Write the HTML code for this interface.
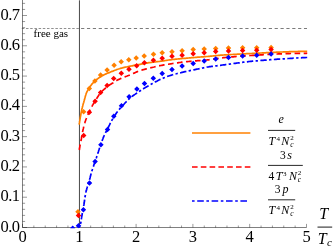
<!DOCTYPE html>
<html><head><meta charset="utf-8"><title>plot</title>
<style>html,body{margin:0;padding:0;background:#fff}body{width:334px;height:249px;position:relative;overflow:hidden;font-family:"Liberation Serif",serif}</style>
</head><body>
<svg width="334" height="249" viewBox="0 0 334 249" style="position:absolute;left:0;top:0">
<defs><filter id="soft" x="0" y="0" width="334" height="249" filterUnits="userSpaceOnUse"><feGaussianBlur stdDeviation="0.35"/></filter><clipPath id="cp"><rect x="22" y="0" width="286" height="227.5"/></clipPath><clipPath id="cd"><rect x="22" y="0" width="286" height="228.3"/></clipPath></defs>
<g stroke="#000" stroke-width="0.5" fill="none">
<path d="M22.5,0V227.5H306.5"/>
<path d="M22.5,227.50h4.5M22.5,221.44h2.6M22.5,215.39h2.6M22.5,209.33h2.6M22.5,203.27h2.6M22.5,197.21h4.5M22.5,191.16h2.6M22.5,185.10h2.6M22.5,179.04h2.6M22.5,172.99h2.6M22.5,166.93h4.5M22.5,160.87h2.6M22.5,154.81h2.6M22.5,148.76h2.6M22.5,142.70h2.6M22.5,136.64h4.5M22.5,130.58h2.6M22.5,124.53h2.6M22.5,118.47h2.6M22.5,112.41h2.6M22.5,106.36h4.5M22.5,100.30h2.6M22.5,94.24h2.6M22.5,88.18h2.6M22.5,82.13h2.6M22.5,76.07h4.5M22.5,70.01h2.6M22.5,63.96h2.6M22.5,57.90h2.6M22.5,51.84h2.6M22.5,45.78h4.5M22.5,39.73h2.6M22.5,33.67h2.6M22.5,27.61h2.6M22.5,21.56h2.6M22.5,15.50h4.5M22.5,9.44h2.6M22.5,3.38h2.6M22.50,227.5v-3.6M33.86,227.5v-2.0M45.22,227.5v-2.0M56.58,227.5v-2.0M67.94,227.5v-2.0M79.30,227.5v-3.6M90.66,227.5v-2.0M102.02,227.5v-2.0M113.38,227.5v-2.0M124.74,227.5v-2.0M136.10,227.5v-3.6M147.46,227.5v-2.0M158.82,227.5v-2.0M170.18,227.5v-2.0M181.54,227.5v-2.0M192.90,227.5v-3.6M204.26,227.5v-2.0M215.62,227.5v-2.0M226.98,227.5v-2.0M238.34,227.5v-2.0M249.70,227.5v-3.6M261.06,227.5v-2.0M272.42,227.5v-2.0M283.78,227.5v-2.0M295.14,227.5v-2.0M306.50,227.5v-3.6" stroke-width="0.4"/>
</g>
<path d="M79.45,0.3V227.5" stroke="#000" stroke-width="0.72"/>
<path d="M21.8,28.5H79.2" stroke="#444" stroke-width="0.6" stroke-dasharray="2.5 1.7"/>
<path d="M81.1,28.5H307" stroke="#333" stroke-width="0.65" stroke-dasharray="3.2 2.665"/>
<g clip-path="url(#cp)" fill="none" stroke-width="1.7">
<path d="M79.2,124.7 L79.3,123.7 L79.5,122.7 L79.6,121.7 L79.8,120.7 L79.9,119.8 L80.1,118.8 L80.2,117.8 L80.4,116.8 L80.6,115.8 L80.8,114.8 L80.9,113.8 L81.1,112.9 L81.3,111.9 L81.5,110.9 L81.7,109.9 L81.9,108.9 L82.2,108.0 L82.4,107.0 L82.7,106.0 L82.9,105.1 L83.2,104.1 L83.5,103.1 L83.8,102.2 L84.0,101.2 L84.3,100.3 L84.6,99.3 L84.8,98.3 L85.1,97.3 L85.3,96.4 L85.6,95.4 L85.9,94.5 L86.2,93.5 L86.6,92.6 L87.0,91.7 L87.5,90.8 L88.0,89.9 L88.5,89.1 L89.0,88.2 L89.6,87.4 L90.1,86.5 L90.7,85.7 L91.3,84.9 L91.9,84.1 L92.6,83.4 L93.2,82.7 L93.9,81.9 L94.7,81.2 L95.4,80.6 L96.2,79.9 L97.0,79.3 L97.8,78.7 L98.5,78.1 L99.4,77.5 L100.2,77.0 L101.1,76.5 L101.9,75.9 L102.8,75.5 L103.7,75.0 L104.6,74.6 L105.5,74.1 L106.4,73.7 L107.3,73.3 L108.3,72.9 L109.2,72.6 L110.1,72.2 L111.0,71.8 L112.0,71.4 L112.9,71.1 L113.8,70.7 L114.8,70.3 L115.7,70.0 L116.6,69.6 L117.6,69.3 L118.5,69.0 L119.5,68.7 L120.4,68.4 L121.4,68.1 L122.4,67.9 L123.3,67.6 L124.3,67.4 L125.3,67.2 L126.3,67.0 L127.3,66.8 L128.2,66.6 L129.2,66.4 L130.2,66.2 L131.2,66.0 L132.2,65.8 L133.1,65.6 L134.1,65.4 L135.1,65.2 L136.1,65.0 L137.1,64.8 L138.0,64.7 L139.0,64.5 L140.0,64.3 L141.0,64.1 L142.0,63.9 L143.0,63.8 L144.0,63.6 L144.9,63.4 L145.9,63.2 L146.9,63.1 L147.9,62.9 L148.9,62.7 L149.9,62.6 L150.9,62.5 L151.9,62.3 L152.8,62.2 L153.8,62.1 L154.8,62.0 L155.8,61.9 L156.8,61.7 L157.8,61.6 L158.8,61.5 L159.8,61.4 L160.8,61.2 L161.8,61.1 L162.8,60.9 L163.8,60.8 L164.7,60.6 L165.7,60.5 L166.7,60.3 L167.7,60.2 L168.7,60.0 L169.7,59.9 L170.7,59.8 L171.7,59.7 L172.7,59.5 L173.7,59.4 L174.7,59.3 L175.6,59.2 L176.6,59.1 L177.6,59.0 L178.6,58.9 L179.6,58.8 L180.6,58.7 L181.6,58.6 L182.6,58.5 L183.6,58.4 L184.6,58.4 L185.6,58.3 L186.6,58.2 L187.6,58.1 L188.6,58.0 L189.6,57.9 L190.6,57.8 L191.6,57.7 L192.6,57.6 L193.6,57.6 L194.6,57.5 L195.6,57.4 L196.6,57.3 L197.6,57.2 L198.6,57.2 L199.6,57.1 L200.6,57.0 L201.5,56.9 L202.5,56.9 L203.5,56.8 L204.5,56.7 L205.5,56.6 L206.5,56.5 L207.5,56.5 L208.5,56.4 L209.5,56.3 L210.5,56.2 L211.5,56.1 L212.5,56.0 L213.5,55.9 L214.5,55.8 L215.5,55.7 L216.5,55.6 L217.5,55.5 L218.5,55.4 L219.5,55.3 L220.5,55.2 L221.5,55.1 L222.5,55.1 L223.5,55.0 L224.5,54.9 L225.5,54.9 L226.5,54.8 L227.5,54.8 L228.5,54.7 L229.4,54.6 L230.4,54.6 L231.4,54.5 L232.4,54.5 L233.4,54.4 L234.4,54.4 L235.4,54.3 L236.4,54.3 L237.4,54.2 L238.4,54.1 L239.4,54.1 L240.4,54.0 L241.4,54.0 L242.4,53.9 L243.4,53.9 L244.4,53.8 L245.4,53.8 L246.4,53.7 L247.4,53.7 L248.4,53.6 L249.4,53.6 L250.4,53.5 L251.4,53.5 L252.4,53.4 L253.4,53.4 L254.4,53.3 L255.4,53.3 L256.4,53.2 L257.4,53.2 L258.4,53.1 L259.4,53.1 L260.4,53.0 L261.4,53.0 L262.4,52.9 L263.4,52.9 L264.4,52.8 L265.4,52.8 L266.4,52.7 L267.4,52.7 L268.4,52.6 L269.4,52.6 L270.4,52.5 L271.4,52.4 L272.4,52.4 L273.4,52.3 L274.4,52.3 L275.4,52.3 L276.4,52.2 L277.4,52.2 L278.4,52.1 L279.4,52.1 L280.4,52.0 L281.4,52.0 L282.4,52.0 L283.4,51.9 L284.4,51.9 L285.4,51.9 L286.4,51.8 L287.4,51.8 L288.4,51.8 L289.4,51.7 L290.4,51.7 L291.4,51.7 L292.4,51.6 L293.4,51.6 L294.4,51.6 L295.4,51.5 L296.4,51.5 L297.4,51.5 L298.4,51.4 L299.4,51.4 L300.4,51.4 L301.4,51.4 L302.4,51.3 L303.4,51.3 L304.4,51.3 L305.4,51.3 L306.4,51.3 L307.2,51.3" stroke="#ff8000"/>
<path d="M79.3,150.0 L79.5,149.0 L79.6,148.0 L79.8,147.0 L79.9,146.1 L80.1,145.1 L80.3,144.1 L80.5,143.1 L80.7,142.1 L80.9,141.1 L81.1,140.2 L81.3,139.2 L81.5,138.2 L81.6,137.2 L81.8,136.2 L82.0,135.2 L82.2,134.3 L82.3,133.3 L82.5,132.3 L82.7,131.3 L82.9,130.3 L83.1,129.4 L83.4,128.4 L83.6,127.4 L83.8,126.4 L84.1,125.5 L84.4,124.5 L84.6,123.5 L84.9,122.6 L85.2,121.6 L85.5,120.7 L85.8,119.7 L86.2,118.8 L86.5,117.9 L86.9,116.9 L87.3,116.0 L87.7,115.1 L88.1,114.2 L88.5,113.3 L88.9,112.4 L89.4,111.4 L89.8,110.5 L90.2,109.6 L90.7,108.7 L91.1,107.8 L91.6,107.0 L92.1,106.1 L92.5,105.2 L93.1,104.4 L93.6,103.5 L94.1,102.7 L94.7,101.8 L95.2,101.0 L95.8,100.1 L96.3,99.3 L96.8,98.4 L97.3,97.5 L97.8,96.7 L98.4,95.8 L98.9,95.0 L99.5,94.2 L100.1,93.4 L100.7,92.6 L101.4,91.9 L102.1,91.2 L102.8,90.5 L103.5,89.8 L104.3,89.1 L105.1,88.5 L105.8,87.8 L106.6,87.2 L107.4,86.6 L108.2,86.0 L109.0,85.4 L109.8,84.8 L110.7,84.3 L111.5,83.7 L112.3,83.2 L113.2,82.7 L114.0,82.1 L114.9,81.6 L115.7,81.1 L116.6,80.6 L117.5,80.1 L118.4,79.6 L119.3,79.2 L120.2,78.8 L121.1,78.4 L122.0,78.0 L122.9,77.6 L123.8,77.2 L124.8,76.9 L125.7,76.5 L126.7,76.2 L127.6,75.8 L128.5,75.5 L129.5,75.1 L130.4,74.7 L131.3,74.4 L132.2,73.9 L133.2,73.5 L134.1,73.1 L135.0,72.7 L135.9,72.3 L136.8,71.9 L137.7,71.5 L138.7,71.1 L139.6,70.8 L140.5,70.5 L141.5,70.2 L142.4,69.9 L143.4,69.6 L144.4,69.4 L145.3,69.1 L146.3,68.9 L147.3,68.7 L148.3,68.4 L149.2,68.2 L150.2,67.9 L151.2,67.7 L152.2,67.5 L153.1,67.2 L154.1,67.0 L155.1,66.7 L156.0,66.5 L157.0,66.3 L158.0,66.1 L159.0,65.9 L159.9,65.7 L160.9,65.5 L161.9,65.3 L162.9,65.1 L163.9,64.9 L164.9,64.8 L165.9,64.6 L166.8,64.5 L167.8,64.3 L168.8,64.2 L169.8,64.0 L170.8,63.8 L171.8,63.7 L172.8,63.5 L173.8,63.4 L174.7,63.2 L175.7,63.1 L176.7,62.9 L177.7,62.8 L178.7,62.6 L179.7,62.5 L180.7,62.4 L181.7,62.2 L182.7,62.1 L183.7,62.0 L184.7,61.9 L185.7,61.8 L186.6,61.7 L187.6,61.6 L188.6,61.5 L189.6,61.4 L190.6,61.3 L191.6,61.2 L192.6,61.1 L193.6,61.0 L194.6,61.0 L195.6,60.9 L196.6,60.8 L197.6,60.7 L198.6,60.7 L199.6,60.6 L200.6,60.5 L201.6,60.4 L202.6,60.4 L203.6,60.3 L204.6,60.2 L205.6,60.1 L206.6,60.0 L207.6,59.9 L208.6,59.8 L209.6,59.7 L210.6,59.6 L211.5,59.4 L212.5,59.3 L213.5,59.1 L214.5,59.0 L215.5,58.8 L216.5,58.6 L217.5,58.4 L218.5,58.3 L219.4,58.1 L220.4,58.0 L221.4,57.9 L222.4,57.8 L223.4,57.7 L224.4,57.6 L225.4,57.5 L226.4,57.4 L227.4,57.3 L228.4,57.2 L229.4,57.1 L230.4,57.0 L231.4,56.9 L232.4,56.9 L233.4,56.8 L234.4,56.7 L235.4,56.6 L236.4,56.5 L237.4,56.5 L238.4,56.4 L239.4,56.3 L240.4,56.2 L241.3,56.2 L242.3,56.1 L243.3,56.0 L244.3,55.9 L245.3,55.9 L246.3,55.8 L247.3,55.7 L248.3,55.7 L249.3,55.6 L250.3,55.5 L251.3,55.5 L252.3,55.4 L253.3,55.4 L254.3,55.3 L255.3,55.2 L256.3,55.2 L257.3,55.1 L258.3,55.1 L259.3,55.0 L260.3,54.9 L261.3,54.9 L262.3,54.8 L263.3,54.7 L264.3,54.7 L265.3,54.6 L266.3,54.6 L267.3,54.5 L268.3,54.4 L269.3,54.4 L270.3,54.3 L271.3,54.3 L272.3,54.2 L273.3,54.1 L274.3,54.1 L275.3,54.0 L276.3,54.0 L277.3,54.0 L278.3,53.9 L279.3,53.9 L280.3,53.8 L281.3,53.8 L282.3,53.8 L283.3,53.7 L284.3,53.7 L285.3,53.7 L286.3,53.7 L287.3,53.6 L288.3,53.6 L289.3,53.6 L290.3,53.5 L291.3,53.5 L292.3,53.5 L293.3,53.5 L294.3,53.4 L295.3,53.4 L296.3,53.4 L297.3,53.4 L298.3,53.4 L299.3,53.3 L300.3,53.3 L301.3,53.3 L302.3,53.3 L303.3,53.3 L304.3,53.3 L305.3,53.3 L306.3,53.3 L307.2,53.2" stroke="#ff0000" stroke-dasharray="5.6 3.49"/>
<path d="M79.5,227.5 L79.8,226.5 L80.1,225.6 L80.3,224.6 L80.6,223.6 L80.8,222.7 L81.0,221.7 L81.1,220.7 L81.3,219.7 L81.4,218.7 L81.6,217.7 L81.7,216.7 L81.9,215.8 L82.1,214.8 L82.2,213.8 L82.4,212.8 L82.6,211.8 L82.8,210.8 L83.0,209.9 L83.2,208.9 L83.4,207.9 L83.6,206.9 L83.7,205.9 L83.9,204.9 L84.0,204.0 L84.2,203.0 L84.3,202.0 L84.5,201.0 L84.6,200.0 L84.8,199.0 L84.9,198.0 L85.1,197.0 L85.2,196.0 L85.4,195.0 L85.6,194.1 L85.7,193.1 L85.9,192.1 L86.2,191.1 L86.4,190.2 L86.7,189.2 L86.9,188.2 L87.2,187.3 L87.5,186.3 L87.8,185.3 L88.0,184.4 L88.3,183.4 L88.7,182.5 L89.0,181.5 L89.3,180.6 L89.6,179.6 L89.8,178.7 L90.1,177.7 L90.3,176.7 L90.6,175.8 L90.8,174.8 L91.1,173.8 L91.4,172.9 L91.6,171.9 L91.9,170.9 L92.2,170.0 L92.5,169.0 L92.8,168.1 L93.2,167.1 L93.5,166.2 L93.8,165.2 L94.1,164.3 L94.5,163.4 L94.8,162.4 L95.1,161.5 L95.4,160.5 L95.7,159.6 L96.1,158.6 L96.4,157.7 L96.7,156.7 L97.0,155.8 L97.3,154.8 L97.6,153.9 L98.0,152.9 L98.3,152.0 L98.6,151.0 L98.9,150.1 L99.2,149.1 L99.5,148.2 L99.9,147.2 L100.2,146.3 L100.5,145.3 L100.9,144.4 L101.2,143.5 L101.5,142.5 L101.9,141.6 L102.2,140.6 L102.5,139.7 L102.9,138.7 L103.2,137.8 L103.6,136.9 L104.0,136.0 L104.4,135.1 L104.8,134.2 L105.3,133.3 L105.7,132.4 L106.2,131.5 L106.7,130.6 L107.1,129.7 L107.6,128.8 L108.0,127.9 L108.5,127.0 L108.9,126.1 L109.4,125.2 L109.8,124.3 L110.2,123.4 L110.7,122.5 L111.2,121.7 L111.6,120.8 L112.1,119.9 L112.6,119.1 L113.2,118.2 L113.7,117.3 L114.2,116.5 L114.7,115.6 L115.3,114.8 L115.8,114.0 L116.4,113.1 L117.0,112.3 L117.6,111.5 L118.2,110.7 L118.8,109.9 L119.4,109.2 L120.1,108.4 L120.7,107.6 L121.4,106.9 L122.1,106.2 L122.8,105.4 L123.5,104.7 L124.2,104.0 L124.8,103.3 L125.5,102.5 L126.2,101.8 L126.9,101.1 L127.6,100.3 L128.3,99.6 L129.0,98.9 L129.8,98.3 L130.5,97.7 L131.3,97.0 L132.1,96.4 L132.9,95.8 L133.7,95.2 L134.5,94.6 L135.3,94.1 L136.2,93.5 L137.0,92.9 L137.8,92.3 L138.6,91.8 L139.5,91.2 L140.3,90.7 L141.2,90.2 L142.0,89.6 L142.9,89.1 L143.7,88.6 L144.6,88.1 L145.4,87.6 L146.3,87.1 L147.2,86.6 L148.0,86.1 L148.9,85.6 L149.8,85.1 L150.6,84.6 L151.5,84.1 L152.4,83.6 L153.3,83.1 L154.1,82.6 L155.0,82.1 L155.9,81.6 L156.8,81.2 L157.6,80.7 L158.5,80.3 L159.4,79.8 L160.3,79.4 L161.3,79.0 L162.2,78.6 L163.1,78.2 L164.0,77.8 L164.9,77.4 L165.9,77.1 L166.8,76.7 L167.8,76.3 L168.7,76.0 L169.6,75.7 L170.6,75.4 L171.5,75.1 L172.5,74.8 L173.4,74.5 L174.4,74.3 L175.4,74.0 L176.3,73.8 L177.3,73.5 L178.3,73.3 L179.2,73.0 L180.2,72.8 L181.2,72.6 L182.2,72.3 L183.2,72.1 L184.1,71.9 L185.1,71.7 L186.1,71.5 L187.1,71.2 L188.0,71.0 L189.0,70.8 L190.0,70.6 L191.0,70.4 L192.0,70.2 L192.9,70.0 L193.9,69.8 L194.9,69.6 L195.9,69.4 L196.9,69.2 L197.8,69.0 L198.8,68.8 L199.8,68.6 L200.8,68.4 L201.8,68.2 L202.7,68.0 L203.7,67.8 L204.7,67.6 L205.7,67.4 L206.7,67.2 L207.7,67.0 L208.6,66.9 L209.6,66.7 L210.6,66.6 L211.6,66.4 L212.6,66.3 L213.6,66.2 L214.6,66.0 L215.6,65.9 L216.6,65.8 L217.6,65.7 L218.5,65.5 L219.5,65.4 L220.5,65.3 L221.5,65.2 L222.5,65.0 L223.5,64.9 L224.5,64.8 L225.5,64.6 L226.5,64.5 L227.5,64.4 L228.5,64.2 L229.4,64.1 L230.4,64.0 L231.4,63.8 L232.4,63.7 L233.4,63.5 L234.4,63.4 L235.4,63.3 L236.4,63.1 L237.4,63.0 L238.4,62.9 L239.4,62.8 L240.4,62.6 L241.3,62.5 L242.3,62.4 L243.3,62.2 L244.3,62.1 L245.3,62.0 L246.3,61.9 L247.3,61.8 L248.3,61.6 L249.3,61.5 L250.3,61.4 L251.3,61.3 L252.3,61.2 L253.3,61.1 L254.3,61.0 L255.3,61.0 L256.3,60.9 L257.2,60.8 L258.2,60.7 L259.2,60.6 L260.2,60.5 L261.2,60.4 L262.2,60.4 L263.2,60.3 L264.2,60.2 L265.2,60.1 L266.2,60.1 L267.2,60.0 L268.2,59.9 L269.2,59.8 L270.2,59.7 L271.2,59.7 L272.2,59.6 L273.2,59.5 L274.2,59.5 L275.2,59.4 L276.2,59.3 L277.2,59.2 L278.2,59.2 L279.2,59.1 L280.2,59.0 L281.2,59.0 L282.2,58.9 L283.2,58.8 L284.2,58.8 L285.2,58.7 L286.2,58.7 L287.2,58.6 L288.2,58.5 L289.2,58.5 L290.2,58.4 L291.2,58.3 L292.2,58.3 L293.2,58.2 L294.2,58.2 L295.2,58.1 L296.2,58.0 L297.1,58.0 L298.1,57.9 L299.1,57.9 L300.1,57.8 L301.1,57.8 L302.1,57.7 L303.1,57.7 L304.1,57.6 L305.1,57.6 L306.1,57.5 L307.1,57.5 L307.2,57.5" stroke="#0000ff" stroke-dasharray="2.4 2.4 6.4 2.35" stroke-dashoffset="9.95"/>
</g>
<g clip-path="url(#cd)">
<path d="M78.0,208.9l2.75,2.75l-2.75,2.75l-2.75,-2.75zM83.6,109.0l2.75,2.75l-2.75,2.75l-2.75,-2.75zM89.3,85.8l2.75,2.75l-2.75,2.75l-2.75,-2.75zM94.9,78.2l2.75,2.75l-2.75,2.75l-2.75,-2.75zM100.6,72.2l2.75,2.75l-2.75,2.75l-2.75,-2.75zM107.1,67.3l2.75,2.75l-2.75,2.75l-2.75,-2.75zM114.1,62.4l2.75,2.75l-2.75,2.75l-2.75,-2.75zM121.2,59.0l2.75,2.75l-2.75,2.75l-2.75,-2.75zM128.8,56.9l2.75,2.75l-2.75,2.75l-2.75,-2.75zM136.2,55.2l2.75,2.75l-2.75,2.75l-2.75,-2.75zM144.2,53.2l2.75,2.75l-2.75,2.75l-2.75,-2.75zM153.5,51.4l2.75,2.75l-2.75,2.75l-2.75,-2.75zM162.2,49.9l2.75,2.75l-2.75,2.75l-2.75,-2.75zM172.0,48.9l2.75,2.75l-2.75,2.75l-2.75,-2.75zM182.1,48.0l2.75,2.75l-2.75,2.75l-2.75,-2.75zM193.2,46.7l2.75,2.75l-2.75,2.75l-2.75,-2.75zM204.2,46.3l2.75,2.75l-2.75,2.75l-2.75,-2.75zM215.7,45.7l2.75,2.75l-2.75,2.75l-2.75,-2.75zM228.5,45.3l2.75,2.75l-2.75,2.75l-2.75,-2.75zM242.6,45.1l2.75,2.75l-2.75,2.75l-2.75,-2.75zM256.7,45.1l2.75,2.75l-2.75,2.75l-2.75,-2.75zM271.1,44.7l2.75,2.75l-2.75,2.75l-2.75,-2.75z" fill="#ff8000"/>
<path d="M78.5,212.8l2.75,2.75l-2.75,2.75l-2.75,-2.75zM83.7,132.7l2.75,2.75l-2.75,2.75l-2.75,-2.75zM89.4,109.5l2.75,2.75l-2.75,2.75l-2.75,-2.75zM95.1,98.5l2.75,2.75l-2.75,2.75l-2.75,-2.75zM100.6,89.8l2.75,2.75l-2.75,2.75l-2.75,-2.75zM107.1,82.8l2.75,2.75l-2.75,2.75l-2.75,-2.75zM113.7,75.7l2.75,2.75l-2.75,2.75l-2.75,-2.75zM121.3,70.4l2.75,2.75l-2.75,2.75l-2.75,-2.75zM129.0,66.4l2.75,2.75l-2.75,2.75l-2.75,-2.75zM136.7,63.0l2.75,2.75l-2.75,2.75l-2.75,-2.75zM144.4,60.1l2.75,2.75l-2.75,2.75l-2.75,-2.75zM153.4,57.6l2.75,2.75l-2.75,2.75l-2.75,-2.75zM162.2,55.5l2.75,2.75l-2.75,2.75l-2.75,-2.75zM172.0,53.6l2.75,2.75l-2.75,2.75l-2.75,-2.75zM182.1,52.4l2.75,2.75l-2.75,2.75l-2.75,-2.75zM193.2,51.1l2.75,2.75l-2.75,2.75l-2.75,-2.75zM204.2,50.0l2.75,2.75l-2.75,2.75l-2.75,-2.75zM215.7,48.7l2.75,2.75l-2.75,2.75l-2.75,-2.75zM228.5,48.3l2.75,2.75l-2.75,2.75l-2.75,-2.75zM242.6,47.7l2.75,2.75l-2.75,2.75l-2.75,-2.75zM256.7,47.5l2.75,2.75l-2.75,2.75l-2.75,-2.75zM271.1,46.7l2.75,2.75l-2.75,2.75l-2.75,-2.75z" fill="#ff0000"/>
<path d="M72.7,225.4l2.75,2.75l-2.75,2.75l-2.75,-2.75zM78.5,223.1l2.75,2.75l-2.75,2.75l-2.75,-2.75zM83.4,206.9l2.75,2.75l-2.75,2.75l-2.75,-2.75zM89.5,180.2l2.75,2.75l-2.75,2.75l-2.75,-2.75zM95.1,158.8l2.75,2.75l-2.75,2.75l-2.75,-2.75zM100.9,141.9l2.75,2.75l-2.75,2.75l-2.75,-2.75zM107.5,126.7l2.75,2.75l-2.75,2.75l-2.75,-2.75zM113.8,113.5l2.75,2.75l-2.75,2.75l-2.75,-2.75zM121.5,103.1l2.75,2.75l-2.75,2.75l-2.75,-2.75zM129.1,94.0l2.75,2.75l-2.75,2.75l-2.75,-2.75zM136.9,86.3l2.75,2.75l-2.75,2.75l-2.75,-2.75zM144.5,80.7l2.75,2.75l-2.75,2.75l-2.75,-2.75zM153.3,75.6l2.75,2.75l-2.75,2.75l-2.75,-2.75zM162.2,70.8l2.75,2.75l-2.75,2.75l-2.75,-2.75zM172.0,66.8l2.75,2.75l-2.75,2.75l-2.75,-2.75zM182.1,63.3l2.75,2.75l-2.75,2.75l-2.75,-2.75zM193.2,60.7l2.75,2.75l-2.75,2.75l-2.75,-2.75zM204.2,58.3l2.75,2.75l-2.75,2.75l-2.75,-2.75zM215.7,56.3l2.75,2.75l-2.75,2.75l-2.75,-2.75zM228.5,54.7l2.75,2.75l-2.75,2.75l-2.75,-2.75zM242.6,53.3l2.75,2.75l-2.75,2.75l-2.75,-2.75zM256.7,52.5l2.75,2.75l-2.75,2.75l-2.75,-2.75zM271.1,51.3l2.75,2.75l-2.75,2.75l-2.75,-2.75z" fill="#0000ff"/>
</g>
<g fill="none" stroke-width="1.7"><path d="M192,133H250.4" stroke="#ff8000"/><path d="M192,167H250.5" stroke="#ff0000" stroke-dasharray="5.6 3.2"/><path d="M192,201H247.4" stroke="#0000ff" stroke-dasharray="2.6 2.6 6.6 2.6"/></g>
<g stroke="#000" stroke-width="0.85"><path d="M268,130.4H295.2M268,165.4H302.8M268,199.8H295.2"/><path d="M317.5,227.1H332.2" stroke-width="0.9"/></g>
<g font-family="'Liberation Serif',serif" fill="#000" filter="url(#soft)">
<g font-size="16.5px" text-anchor="end" letter-spacing="-0.6">
<text x="19.4" y="231.5">0.0</text>
<text x="19.4" y="201.2">0.1</text>
<text x="19.4" y="170.9">0.2</text>
<text x="19.4" y="140.6">0.3</text>
<text x="19.4" y="110.4">0.4</text>
<text x="19.4" y="80.1">0.5</text>
<text x="19.4" y="49.8">0.6</text>
<text x="19.4" y="19.5">0.7</text>
</g>
<g font-size="16.5px" text-anchor="middle">
<text x="22.5" y="242.2">0</text>
<text x="79.3" y="242.2">1</text>
<text x="136.1" y="242.2">2</text>
<text x="192.9" y="242.2">3</text>
<text x="249.7" y="242.2">4</text>
<text x="306.5" y="242.2">5</text>
</g>
<text x="33.6" y="36.5" font-size="11px">free gas</text>
<text x="278.6" y="123.1" font-size="12px" font-style="italic">e</text>
<text x="268.4" y="145.0" font-size="12px" font-style="italic">T</text><text x="276.4" y="140.8" font-size="7px">4</text><text x="281.3" y="145.0" font-size="12px" font-style="italic">N</text><text x="290.3" y="140.2" font-size="7px">2</text><text x="290.3" y="146.8" font-size="7.5px" font-style="italic">c</text>
<text x="280.0" y="158.7" font-size="11.5px">3</text><text x="287.3" y="158.7" font-size="12px" font-style="italic">s</text>
<text x="268.6" y="179.9" font-size="11.5px">4</text><text x="275.8" y="179.9" font-size="12px" font-style="italic">T</text><text x="283.0" y="175.70000000000002" font-size="7px">3</text><text x="288.9" y="179.9" font-size="12px" font-style="italic">N</text><text x="297.7" y="175.1" font-size="7px">2</text><text x="297.7" y="181.70000000000002" font-size="7.5px" font-style="italic">c</text>
<text x="274.8" y="192.8" font-size="11.5px">3</text><text x="282.6" y="192.8" font-size="12px" font-style="italic">p</text>
<text x="268.4" y="214.0" font-size="12px" font-style="italic">T</text><text x="276.4" y="209.8" font-size="7px">4</text><text x="281.3" y="214.0" font-size="12px" font-style="italic">N</text><text x="290.3" y="209.2" font-size="7px">2</text><text x="290.3" y="215.8" font-size="7.5px" font-style="italic">c</text>
<text font-size="16px" font-style="italic" x="319.3" y="219.1">T</text>
<text font-size="16px" font-style="italic" x="317.8" y="243.6">T<tspan font-size="11px" dy="2" dx="0.3">c</tspan></text>
</g>
</svg>
</body></html>
